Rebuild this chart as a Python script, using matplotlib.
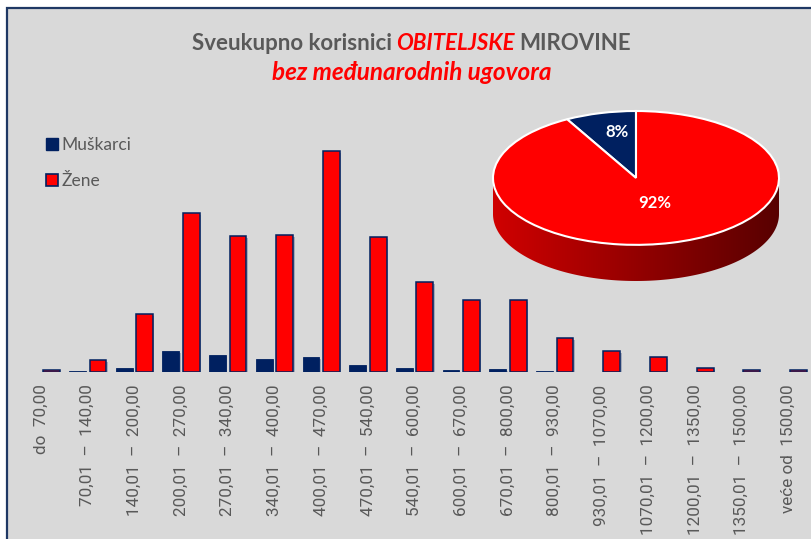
import numpy as np
import matplotlib
matplotlib.use("Agg")
from matplotlib import pyplot as plt
from matplotlib.patches import Rectangle, Patch, Polygon
from matplotlib.offsetbox import TextArea, HPacker, AnnotationBbox
import matplotlib.patheffects as pe

# razredi iznosa mirovine
razredi = ["do  70,00", "70,01  –  140,00", "140,01  –  200,00", "200,01  –  270,00",
           "270,01  –  340,00", "340,01  –  400,00", "400,01  –  470,00", "470,01  –  540,00",
           "540,01  –  600,00", "600,01  –  670,00", "670,01  –  800,00", "800,01  –  930,00",
           "930,01  –  1070,00", "1070,01  –  1200,00", "1200,01  –  1350,00",
           "1350,01  –  1500,00", "veće od  1500,00"]
muskarci = [0, 100, 450, 2100, 1750, 1350, 1500, 750, 400, 250, 300, 100, 30, 0, 0, 0, 0]
zene = [250, 1200, 5850, 15950, 13600, 13700, 22150, 13550, 8970, 7170, 7200, 3400,
        2100, 1470, 400, 250, 250]
udjeli = [8, 92]          # Muškarci, Žene (%)
spol = ["Muškarci", "Žene"]

SIVA = "#595959"
CRVENA = "#FF0000"
PLAVA = "#002060"
POZADINA = "#D9D9D9"

W, H = 811, 539


def fx(x):
    return x / W


def fy(y):
    return 1 - y / H


fig = plt.figure(figsize=(W / 100, H / 100), dpi=100, facecolor="white")

# okvir grafikona
okvir = Rectangle((fx(7), fy(600)), 2, fy(8) - fy(600), transform=fig.transFigure,
                  facecolor=POZADINA, edgecolor="#1F3864", linewidth=1.6, zorder=-5)
fig.patches.append(okvir)

# stupci
ax = fig.add_axes([fx(17.65), fy(372), fx(811.6) - fx(17.65), fy(100) - fy(372)])
ax.set_facecolor("none")
x = np.arange(len(razredi))
sjena = [pe.SimplePatchShadow(offset=(1, -1.5), shadow_rgbFace="#8f97aa", alpha=0.7), pe.Normal()]
b1 = ax.bar(x - 0.22, muskarci, width=0.36, color=PLAVA, edgecolor=PLAVA, linewidth=0.6)
b2 = ax.bar(x + 0.22, zene, width=0.36, color=CRVENA, edgecolor=PLAVA, linewidth=1.1)
for b in list(b1) + list(b2):
    if b.get_height() > 0:
        b.set_path_effects(sjena)
ax.set_xlim(-0.5, len(razredi) - 0.5)
ax.set_ylim(0, 27200)
ax.set_yticks([])
ax.set_xticks(x, razredi, rotation=90, ha="center", va="top", family="Roboto")
ax.tick_params(axis="x", length=0, pad=9, labelsize=12.3, labelcolor=SIVA)
for s in ax.spines.values():
    s.set_visible(False)

ax.legend([Patch(facecolor=PLAVA, edgecolor=PLAVA), Patch(facecolor=CRVENA, edgecolor=PLAVA, linewidth=1.2)],
          spol, loc="upper left", bbox_to_anchor=(fx(46), fy(137)), bbox_transform=fig.transFigure,
          frameon=False, handlelength=0.68, handleheight=0.68, handletextpad=0.2,
          labelspacing=1.15, borderpad=0, borderaxespad=0,
          prop={"family": "Lato", "size": 12.5}, labelcolor=SIVA)

# naslov
t_siva = dict(color=SIVA, weight="bold", size=16, family="Lato")
t_crv = dict(color=CRVENA, weight="bold", style="italic", size=16, family="Lato")
red1 = HPacker(children=[TextArea("Sveukupno korisnici", textprops=t_siva),
                         TextArea("OBITELJSKE", textprops=t_crv),
                         TextArea("MIROVINE", textprops=t_siva)],
               sep=3.2, align="baseline", pad=0)
fig.add_artist(AnnotationBbox(red1, (fx(411.5), fy(43)), xycoords="figure fraction",
                              frameon=False, box_alignment=(0.5, 0.5), pad=0))
fig.text(fx(411.5), fy(73), "bez međunarodnih ugovora", ha="center", va="center",
         **dict(t_crv, size=17.5))

# 3D pita
dubina = 0.54
pax = fig.add_axes([fx(493), fy(281), fx(779) - fx(493), fy(111) - fy(281)])
pax.set_axis_off()
t = np.linspace(np.pi, 2 * np.pi, 200)
bok = np.concatenate([np.column_stack([np.cos(t), np.sin(t)]),
                      np.column_stack([np.cos(t[::-1]), np.sin(t[::-1]) - dubina])])
bok_poly = Polygon(bok, closed=True, facecolor="none", edgecolor="none")
pax.add_patch(bok_poly)
grad = np.linspace(0, 1, 256)
lijevo = np.array([208, 0, 0]) / 255
desno = np.array([88, 0, 0]) / 255
boje = (lijevo[None, :] * (1 - grad[:, None]) + desno[None, :] * grad[:, None])[None, :, :]
img = pax.imshow(boje, extent=(-1, 1, -1 - dubina, 0), aspect="auto", zorder=1)
img.set_clip_path(bok_poly)

klinovi, _, postoci = pax.pie(udjeli, colors=[PLAVA, CRVENA], startangle=90, radius=1,
                              autopct="%d%%", pctdistance=0.6,
                              wedgeprops=dict(edgecolor="white", linewidth=1.5),
                              textprops=dict(color="white", weight="bold", size=12, family="Lato"))
for k in klinovi:
    k.set_zorder(2)
postoci[0].set_position((-0.13, 0.69))
postoci[1].set_position((0.13, -0.37))
for p in postoci:
    p.set_zorder(3)
pax.set_aspect("auto")
pax.set_xlim(-1, 1)
pax.set_ylim(-1 - dubina, 1)

fig.savefig("out.png", dpi=100, facecolor="white")
